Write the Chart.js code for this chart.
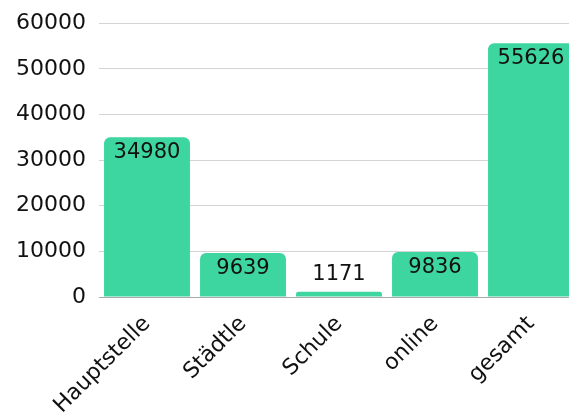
<!DOCTYPE html>
<html>
<head>
<meta charset="utf-8">
<script src="https://cdn.jsdelivr.net/npm/chart.js@4"></script>
<style>
  html, body { margin: 0; padding: 0; background: #fff; overflow: hidden; }
  #wrap { width: 569px; height: 412px; overflow: hidden; }
  #chart { display: block; margin-top: -3px; }
</style>
</head>
<body>
<div id="wrap"><canvas id="chart" width="580" height="415"></canvas></div>
<script>
// Werte aus der Vorlage
const categories = ["Hauptstelle", "Städtle", "Schule", "online", "gesamt"];
const values = [34980, 9639, 1171, 9836, 55626];
const yTicks = [0, 10000, 20000, 30000, 40000, 50000, 60000];

const FONT = "'DejaVu Sans', sans-serif";
const BAR = "#3dd5a0";

// Zahlen an die Balken schreiben (kein datalabels-Plugin verfügbar)
const valueLabels = {
  id: "valueLabels",
  afterDatasetsDraw(chart) {
    const ctx = chart.ctx;
    const meta = chart.getDatasetMeta(0);
    ctx.save();
    ctx.font = "21px " + FONT;
    ctx.fillStyle = "#111";
    ctx.textAlign = "center";
    meta.data.forEach((bar, i) => {
      const h = bar.base - bar.y;
      if (h > 30) {
        ctx.textBaseline = "top";
        ctx.fillText(String(values[i]), bar.x, bar.y + 5);
      } else {
        ctx.textBaseline = "bottom";
        ctx.fillText(String(values[i]), bar.x, bar.y - 7);
      }
    });
    ctx.restore();
  }
};

new Chart(document.getElementById("chart").getContext("2d"), {
  type: "bar",
  data: {
    labels: categories,
    datasets: [{
      data: values,
      backgroundColor: BAR,
      borderRadius: 6,
      barPercentage: 0.895,
      categoryPercentage: 1
    }]
  },
  options: {
    responsive: false,
    animation: false,
    layout: { padding: { top: 20, right: 1, left: 0, bottom: 0 } },
    plugins: {
      legend: { display: false },
      tooltip: { enabled: false }
    },
    scales: {
      x: {
        grid: { display: false },
        border: { display: false },
        ticks: {
          color: "#111",
          font: { family: FONT, size: 22 },
          minRotation: 45,
          maxRotation: 45,
          padding: 6
        },
        afterFit(scale) { scale.height = 115; }
      },
      y: {
        min: 0,
        max: 60000,
        afterBuildTicks(scale) { scale.ticks = yTicks.map(v => ({ value: v })); },
        grid: {
          color: (c) => c.tick && c.tick.value === 0 ? "#aaaaaa" : "#d4d4d4",
          drawTicks: false
        },
        border: { display: false },
        ticks: {
          color: "#111",
          font: { family: FONT, size: 22 },
          padding: 13,
          callback: (v) => String(v)
        },
        afterFit(scale) { scale.width = 99; }
      }
    }
  },
  plugins: [valueLabels]
});
</script>
</body>
</html>
